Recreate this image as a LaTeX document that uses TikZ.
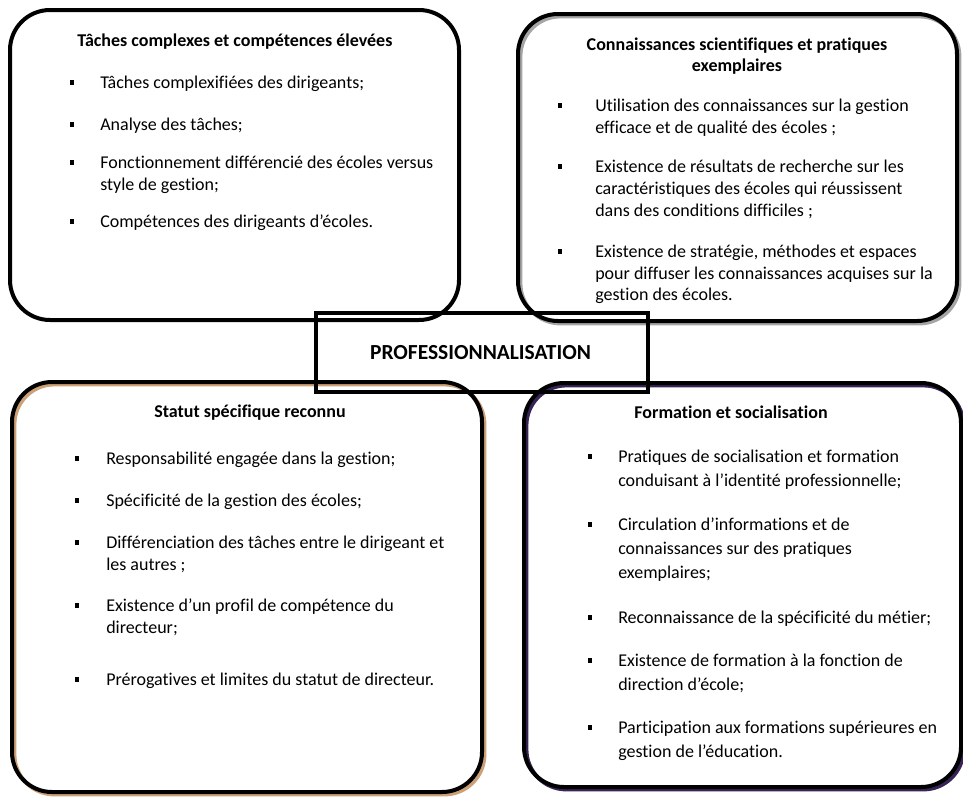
\documentclass[tikz,border=0pt]{standalone}
\usepackage{fontspec}
\setmainfont{Carlito}[Ligatures=NoCommon]
\definecolor{tanshadow}{RGB}{205,160,118}
\definecolor{purpleshadow}{RGB}{55,35,85}
\definecolor{grayshadow}{RGB}{165,165,165}
\newcommand\bodyfont{\fontsize{13.5pt}{16pt}\selectfont}
\newcommand\bigfont{\fontsize{16.1pt}{19pt}\selectfont}
\newcommand\sq{\rule[2.6pt]{3.7pt}{3.7pt}}
\begin{document}
\begin{tikzpicture}[x=0.75pt,y=-0.75pt,
  box/.style={draw, line width=3pt, rounded corners=30pt, inner sep=0pt},
  shadowed/.style={preaction={draw=#1, line width=3pt, transform canvas={xshift=1.8pt,yshift=-1.8pt}}},
  txt/.style={anchor=base west, inner sep=0pt, font=\bodyfont},
  ttl/.style={anchor=base, inner sep=0pt, font=\bodyfont\bfseries},
  bul/.style={anchor=base, inner sep=0pt, font=\bodyfont},
]
\useasboundingbox (0,0) rectangle (963,796);

% boxes
\node[box, minimum width=336.75pt, minimum height=232.5pt] (tl) at (234.5,165) {};
\node[box, shadowed=grayshadow, minimum width=329.25pt, minimum height=230.25pt] (tr) at (737.5,167.5) {};
\node[box, shadowed=tanshadow, minimum width=352.5pt, minimum height=307.5pt] (bl) at (247,587) {};
\node[box, shadowed=purpleshadow, minimum width=327.75pt, minimum height=303pt] (br) at (742.5,585) {};
\node[draw, line width=3pt, inner sep=0pt, minimum width=249pt, minimum height=59.25pt] (pro) at (482,352.5) {};
\node[anchor=base, inner sep=0pt, font=\bigfont\bfseries] (protxt) at (480.5,359) {PROFESSIONNALISATION};

% top left
\node[ttl] (tlt) at (235,46) {Tâches complexes et compétences élevées};
\node[bul] (tlb1) at (72,88) {\sq};
\node[txt] (tl1) at (100,88) {Tâches complexifiées des dirigeants;};
\node[bul] (tlb2) at (72,130) {\sq};
\node[txt] (tl2) at (100,130) {Analyse des tâches;};
\node[bul] (tlb3) at (72,168) {\sq};
\node[txt] (tl3a) at (100,168) {Fonctionnement différencié des écoles versus};
\node[txt] (tl3b) at (100,190) {style de gestion;};
\node[bul] (tlb4) at (72,227) {\sq};
\node[txt] (tl4) at (100,227) {Compétences des dirigeants d’écoles.};

% top right
\node[ttl] (trt1) at (737,50) {Connaissances scientifiques et pratiques};
\node[ttl] (trt2) at (737,71) {exemplaires};
\node[bul] (trb1) at (560,111) {\sq};
\node[txt] (tr1a) at (595,111) {Utilisation des connaissances sur la gestion};
\node[txt] (tr1b) at (595,133) {efficace et de qualité des écoles ;};
\node[bul] (trb2) at (560,172) {\sq};
\node[txt] (tr2a) at (595,172) {Existence de résultats de recherche sur les};
\node[txt] (tr2b) at (595,194) {caractéristiques des écoles qui réussissent};
\node[txt] (tr2c) at (595,216) {dans des conditions difficiles ;};
\node[bul] (trb3) at (560,257) {\sq};
\node[txt] (tr3a) at (595,257) {Existence de stratégie, méthodes et espaces};
\node[txt] (tr3b) at (595,279) {pour diffuser les connaissances acquises sur la};
\node[txt] (tr3c) at (595,300) {gestion des écoles.};

% bottom left
\node[ttl] (blt) at (250,417) {Statut spécifique reconnu};
\node[bul] (blb1) at (77,464) {\sq};
\node[txt] (bl1) at (106,464) {Responsabilité engagée dans la gestion;};
\node[bul] (blb2) at (77,506) {\sq};
\node[txt] (bl2) at (106,506) {Spécificité de la gestion des écoles;};
\node[bul] (blb3) at (77,548) {\sq};
\node[txt] (bl3a) at (106,548) {Différenciation des tâches entre le dirigeant et};
\node[txt] (bl3b) at (106,570) {les autres ;};
\node[bul] (blb4) at (77,611) {\sq};
\node[txt] (bl4a) at (106,611) {Existence d’un profil de compétence du};
\node[txt] (bl4b) at (106,633) {directeur;};
\node[bul] (blb5) at (77,685) {\sq};
\node[txt] (bl5) at (106,685) {Prérogatives et limites du statut de directeur.};

% bottom right
\node[ttl] (brt) at (731,418) {Formation et socialisation};
\node[bul] (brb1) at (590,462) {\sq};
\node[txt] (br1a) at (618,462) {Pratiques de socialisation et formation};
\node[txt] (br1b) at (618,486) {conduisant à l’identité professionnelle;};
\node[bul] (brb2) at (590,530) {\sq};
\node[txt] (br2a) at (618,530) {Circulation d’informations et de};
\node[txt] (br2b) at (618,554) {connaissances sur des pratiques};
\node[txt] (br2c) at (618,578) {exemplaires;};
\node[bul] (brb3) at (590,623) {\sq};
\node[txt] (br3) at (618,623) {Reconnaissance de la spécificité du métier;};
\node[bul] (brb4) at (590,666) {\sq};
\node[txt] (br4a) at (618,666) {Existence de formation à la fonction de};
\node[txt] (br4b) at (618,690) {direction d’école;};
\node[bul] (brb5) at (590,733) {\sq};
\node[txt] (br5a) at (618,733) {Participation aux formations supérieures en};
\node[txt] (br5b) at (618,757) {gestion de l’éducation.};
\end{tikzpicture}
\end{document}
